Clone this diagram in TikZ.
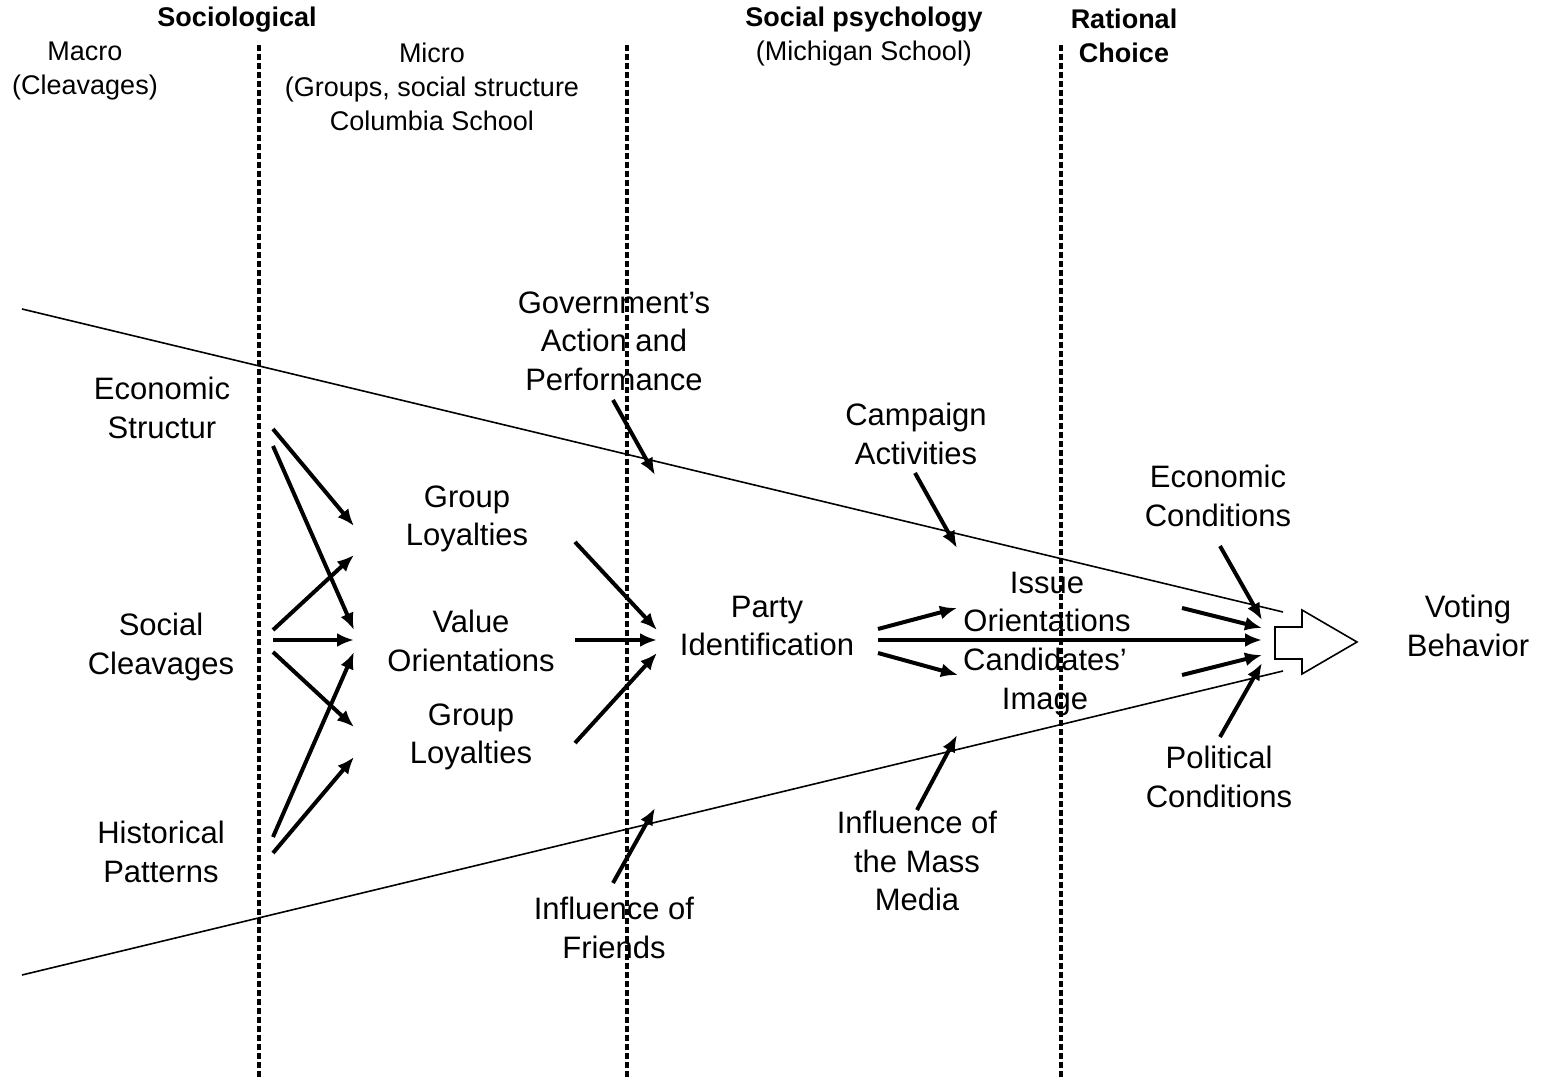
\documentclass[tikz,border=0pt]{standalone}
\usepackage{fontspec}
\setmainfont{Liberation Sans}
\usepackage{tikz}
\usetikzlibrary{calc,arrows.meta}

\begin{document}
\begin{tikzpicture}[x=0.5pt,y=-0.5pt,
    lbl/.style={align=center,inner sep=0pt,font=\fontsize{15.5}{19.25}\selectfont},
    hdr/.style={align=center,inner sep=0pt,font=\fontsize{13.5}{17}\selectfont},
    bhdr/.style={hdr,font=\fontsize{13.5}{17}\selectfont\bfseries},
    link/.style={-{Latex[length=8.5pt,width=7pt]},line width=2pt},
    divider/.style={line width=1.8pt,dash pattern=on 3pt off 1.5pt},
    funnel/.style={line width=0.8pt}]
                \useasboundingbox (0,0) rectangle (1544,1080);
                % Column dividers
                \draw[divider](259,45)--(259,1080);
                \draw[divider](627,45)--(627,1080);
                \draw[divider](1061,45)--(1061,1080);
                % Headings
                \node[bhdr](socio) at (237,20) {Sociological};
                \node[hdr](macro) at (85,71) {Macro\\(Cleavages)};
                \node[hdr](micro) at (432,87) {Micro\\(Groups, social structure\\Columbia School};
                \node[bhdr](socpsy) at (864,20) {Social psychology};
                \node[hdr](mich) at (864,54) {(Michigan School)};
                \node[bhdr](ratl) at (1124,36) {Rational\\Choice};
                % Funnel
                \draw[funnel](22,309)--(1283,612);
                \draw[funnel](22,975)--(1283,671);
                \coordinate (blk) at (1275,642);
                \draw[funnel,fill=white](1275,627)--(1302,627)--(1302,610)--(1357,642)--(1302,674)--(1302,659)--(1275,659)--cycle;
                % Factors
                \node[lbl](econ) at (162,408) {Economic\\Structur};
                \node[lbl](social) at (161,647) {Social\\Cleavages};
                \node[lbl](hist) at (161,852) {Historical\\Patterns};
                \node[lbl](grpA) at (467,519) {Group\\Loyalties};
                \node[lbl](value) at (471,641) {Value\\Orientations};
                \node[lbl](grpB) at (471,737) {Group\\Loyalties};
                \node[lbl](gov) at (614,341) {Government’s\\Action and\\Performance};
                \node[lbl](camp) at (916,434) {Campaign\\Activities};
                \node[lbl](party) at (767,626) {Party\\Identification};
                \node[lbl](issue) at (1047,602) {Issue\\Orientations};
                \node[lbl](cand) at (1045,682) {Candidates’\\Image};
                \node[lbl](econcond) at (1218,496) {Economic\\Conditions};
                \node[lbl](polcond) at (1219,777) {Political\\Conditions};
                \node[lbl](media) at (917,861) {Influence of\\the Mass\\Media};
                \node[lbl](friends) at (614,928) {Influence of\\Friends};
                \node[lbl](voting) at (1468,626) {Voting\\Behavior};
                % Macro to micro
                \draw[link]($(econ)+(111,21)$)--($(grpA)+(-113,7)$);
                \draw[link]($(econ)+(111,38)$)--($(value)+(-117,-11)$);
                \draw[link]($(social)+(112,-17)$)--($(grpA)+(-113,36)$);
                \draw[link]($(social)+(112,-7)$)--($(value)+(-117,-1)$);
                \draw[link]($(social)+(112,5)$)--($(grpB)+(-117,-10)$);
                \draw[link]($(hist)+(112,-15)$)--($(value)+(-117,11)$);
                \draw[link]($(hist)+(112,1)$)--($(grpB)+(-117,20)$);
                % Micro to party
                \draw[link]($(grpA)+(108,23)$)--($(party)+(-110,4)$);
                \draw[link]($(value)+(104,-1)$)--($(party)+(-110,14)$);
                \draw[link]($(grpB)+(104,6)$)--($(party)+(-110,27)$);
                % Outside influences
                \draw[link]($(gov)+(-1,59)$)--++(42,75);
                \draw[link]($(camp)+(-1,39)$)--++(42,75);
                \draw[link]($(friends)+(-1,-45)$)--++(42,-75);
                \draw[link]($(media)+(0,-51)$)--++(40,-75);
                % Party to vote
                \draw[link]($(party)+(111,3)$)--($(issue)+(-90,6)$);
                \draw[link]($(party)+(111,14)$)--($(blk)+(-13,-2)$);
                \draw[link]($(party)+(111,27)$)--($(cand)+(-87,-7)$);
                \draw[link]($(issue)+(135,6)$)--($(blk)+(-13,-14)$);
                \draw[link]($(cand)+(137,-7)$)--($(blk)+(-13,13)$);
                \draw[link]($(econcond)+(2,50)$)--($(blk)+(-13,-22)$);
                \draw[link]($(polcond)+(1,-40)$)--($(blk)+(-13,21)$);
            \end{tikzpicture}
\end{document}
